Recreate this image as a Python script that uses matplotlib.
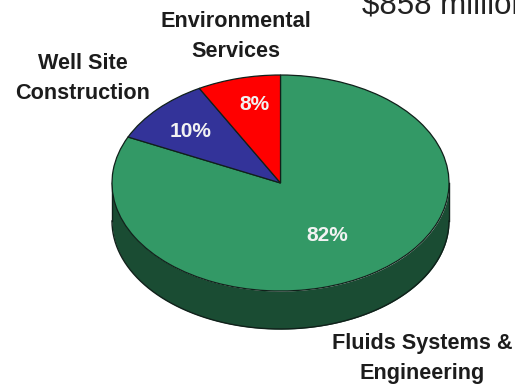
import numpy as np
import matplotlib
matplotlib.use("Agg")
import matplotlib.pyplot as plt

plt.rcParams['font.family'] = ['Liberation Sans', 'DejaVu Sans']

segments = ["Fluids Systems &\nEngineering", "Well Site\nConstruction", "Environmental\nServices"]
shares = [82, 10, 8]
share_labels = ["82%", "10%", "8%"]
colors = ["#339966", "#333399", "#FF0000"]
side_color = "#1A4C33"
revenue_label = "$858 million"

W, H = 515, 387
CX, CY, RX, RY, DEPTH = 280.5, 183, 168.5, 108, 38
EDGE = "#10201a"

fig = plt.figure(figsize=(W / 100, H / 100), dpi=100)
ax = fig.add_axes([0, 0, 1, 1])

# Extruded rim below the top face
theta = np.linspace(np.pi, 2 * np.pi, 240)
rim_x = np.cos(theta)
rim_top = np.sin(theta)
rim_bottom = rim_top - DEPTH / RY
ax.fill_between(rim_x, rim_bottom, rim_top, color=side_color, lw=0, zorder=1)
ax.plot(rim_x, rim_bottom, color=EDGE, lw=1, zorder=2)
for sx in (-1, 1):
    ax.plot([sx, sx], [0, -DEPTH / RY], color=EDGE, lw=1, zorder=2)

# Top face: wedges run clockwise from twelve o'clock
wedges, _ = ax.pie(
    shares, colors=colors, startangle=90, counterclock=False, radius=1,
    wedgeprops=dict(edgecolor=EDGE, linewidth=0.9, zorder=3),
)

# Pixel-based limits flatten the circle into an ellipse
ax.set_aspect('auto')
ax.set_xlim(-CX / RX, (W - CX) / RX)
ax.set_ylim(-(H - CY) / RY, CY / RY)
ax.axis('off')


def px(x, y):
    return (x - CX) / RX, (CY - y) / RY


label_positions = [(422.5, 358.5), (83, 78.5), (235.5, 36.5)]
for name, (x, y) in zip(segments, label_positions):
    ax.text(*px(x, y), name, ha='center', va='center', fontsize=15.6,
            fontweight='bold', color='#1c1c1c', linespacing=1.55, zorder=5)

value_positions = [(327, 235), (191, 131), (254, 105)]
for text, (x, y) in zip(share_labels, value_positions):
    ax.text(*px(x, y), text, ha='center', va='center', fontsize=15,
            fontweight='bold', color='#f2f2f2', zorder=5)

ax.text(*px(362, 13), revenue_label, ha='left', va='baseline', fontsize=22.5,
        color='#222222', zorder=5)

fig.savefig("out.png", dpi=100, facecolor='white')
